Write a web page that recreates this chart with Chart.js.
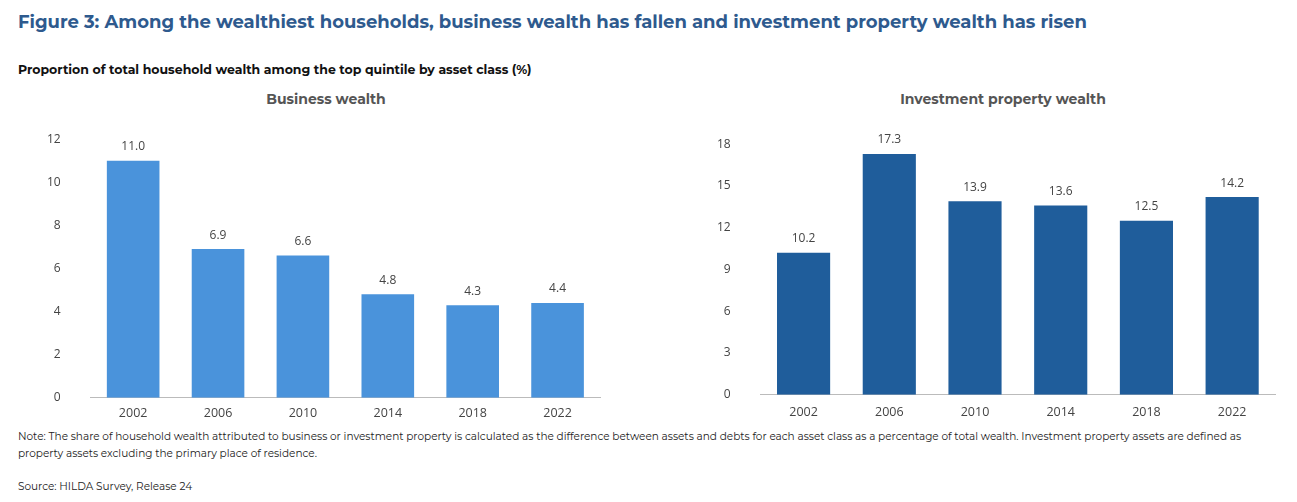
<!DOCTYPE html>
<html><head><meta charset="utf-8">
<script src="https://cdn.jsdelivr.net/npm/chart.js@4"></script>
<style>
body{margin:0;width:1297px;height:502px;background:#fff;font-family:Montserrat,"Open Sans",sans-serif;position:relative;overflow:hidden}
.t{position:absolute;white-space:nowrap}
#title{left:18px;top:11px;font-size:18px;font-weight:700;color:#2e5a8e}
#sub{left:18px;top:62px;font-size:12.5px;font-weight:700;color:#111}
.ct{top:90px;font-size:14px;font-weight:700;color:#555;transform:translateX(-50%)}
.note{left:18px;font-size:10.5px;color:#222;line-height:17px}
.box{position:absolute}
</style></head><body>
<div class="t" id="title">Figure 3: Among the wealthiest households, business wealth has fallen and investment property wealth has risen</div>
<div class="t" id="sub">Proportion of total household wealth among the top quintile by asset class (%)</div>
<div class="t ct" style="left:326px">Business wealth</div>
<div class="t ct" style="left:1003px">Investment property wealth</div>
<div class="box" style="left:25px;top:110px;width:585px;height:317px"><canvas id="c1"></canvas></div>
<div class="box" style="left:695px;top:115px;width:590px;height:309px"><canvas id="c2"></canvas></div>
<div class="t note" style="top:428px">Note: The share of household wealth attributed to business or investment property is calculated as the difference between assets and debts for each asset class as a percentage of total wealth. Investment property assets are defined as<br>property assets excluding the primary place of residence.</div>
<div class="t note" style="top:478px">Source: HILDA Survey, Release 24</div>
<script>
const years = ["2002", "2006", "2010", "2014", "2018", "2022"];
const businessWealth = [11.0, 6.9, 6.6, 4.8, 4.3, 4.4];
const investmentWealth = [10.2, 17.3, 13.9, 13.6, 12.5, 14.2];

const labelPlugin = {
  id: "barLabels",
  afterDatasetsDraw(chart) {
    const ctx = chart.ctx;
    const meta = chart.getDatasetMeta(0);
    ctx.save();
    ctx.font = "12px 'Open Sans', sans-serif";
    ctx.fillStyle = "#444";
    ctx.textAlign = "center";
    ctx.textBaseline = "bottom";
    meta.data.forEach((bar, i) => {
      ctx.fillText(chart.data.datasets[0].data[i].toFixed(1), bar.x, bar.y - 8);
    });
    ctx.restore();
  },
};

function makeChart(id, data, color, max, step, xPad) {
  new Chart(document.getElementById(id), {
    type: "bar",
    data: { labels: years, datasets: [{ data, backgroundColor: color, categoryPercentage: 0.62, barPercentage: 1 }] },
    plugins: [labelPlugin],
    options: {
      animation: false,
      maintainAspectRatio: false,
      responsive: true,
      layout: { padding: { top: 12, right: 10 } },
      plugins: { legend: { display: false }, tooltip: { enabled: false } },
      scales: {
        x: {
          grid: { display: false },
          border: { color: "#bbb" },
          ticks: { color: "#444", font: { size: 12.5, family: "'Open Sans', sans-serif" }, padding: xPad },
        },
        y: {
          min: 0, max,
          grid: { display: false },
          border: { display: false },
          ticks: { stepSize: step, color: "#444", font: { size: 12, family: "'Open Sans', sans-serif" }, padding: 22 },
        },
      },
    },
  });
}

makeChart("c1", businessWealth, "#4a93db", 12, 2, 0);
makeChart("c2", investmentWealth, "#1f5d9b", 18, 3, 2);
</script>
</body></html>
